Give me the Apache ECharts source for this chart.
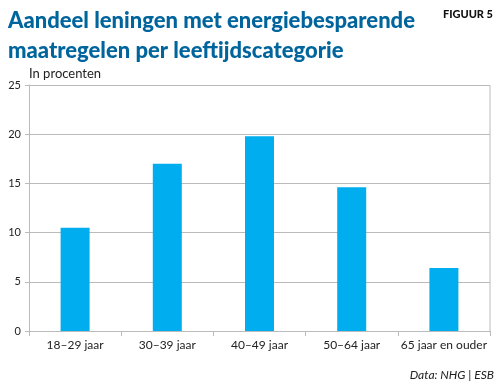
<!DOCTYPE html>
<html><head><meta charset="utf-8">
<script src="https://cdn.jsdelivr.net/npm/echarts@6/dist/echarts.min.js"></script>
<style>html,body{margin:0;padding:0;background:#fff}#c{width:500px;height:386px}</style>
</head><body><div id="c"></div>
<script>
const categories = ['18–29 jaar','30–39 jaar','40–49 jaar','50–64 jaar','65 jaar en ouder'];
const values = [10.5, 17.0, 19.8, 14.6, 6.4];
const yTicks = [0, 5, 10, 15, 20, 25];

const chart = echarts.init(document.getElementById('c'), null, {renderer:'canvas'});
const F = 'Lato, "Noto Sans", sans-serif';
chart.setOption({
  animation:false,
  graphic:[
    {type:'text', left:8, top:6, style:{text:'Aandeel leningen met energiebesparende\nmaatregelen per leeftijdscategorie', fill:'#00659c', font:'900 22px '+F, lineHeight:30}},
    {type:'text', right:7, top:9, style:{text:'FIGUUR 5', fill:'#111', font:'900 11px '+F}},
    {type:'text', left:29, top:67, style:{text:'In procenten', fill:'#222', font:'13px '+F}},
    {type:'text', right:6, top:369, style:{text:'Data: NHG | ESB', fill:'#222', font:'italic 12px '+F}},
    {type:'line', shape:{x1:490, y1:85, x2:490, y2:331}, style:{stroke:'#bbb', lineWidth:1}}
  ],
  grid:{left:29, right:10, top:85, bottom:55},
  xAxis:{type:'category', data:categories,
    axisLine:{lineStyle:{color:'#bbb'}},
    axisTick:{show:true, alignWithLabel:false, length:5, lineStyle:{color:'#bbb'}},
    axisLabel:{color:'#222', fontFamily:F, fontSize:12, margin:8, interval:0}},
  yAxis:{type:'value', min:yTicks[0], max:yTicks[yTicks.length-1], interval:5,
    axisLine:{show:true, lineStyle:{color:'#bbb'}},
    axisTick:{show:true, length:4, lineStyle:{color:'#bbb'}},
    splitLine:{lineStyle:{color:'#bbb'}},
    axisLabel:{color:'#222', fontFamily:F, fontSize:11, margin:8}},
  series:[{type:'bar', data:values, barWidth:29, itemStyle:{color:'#00aeef'}}]
});
</script></body></html>
